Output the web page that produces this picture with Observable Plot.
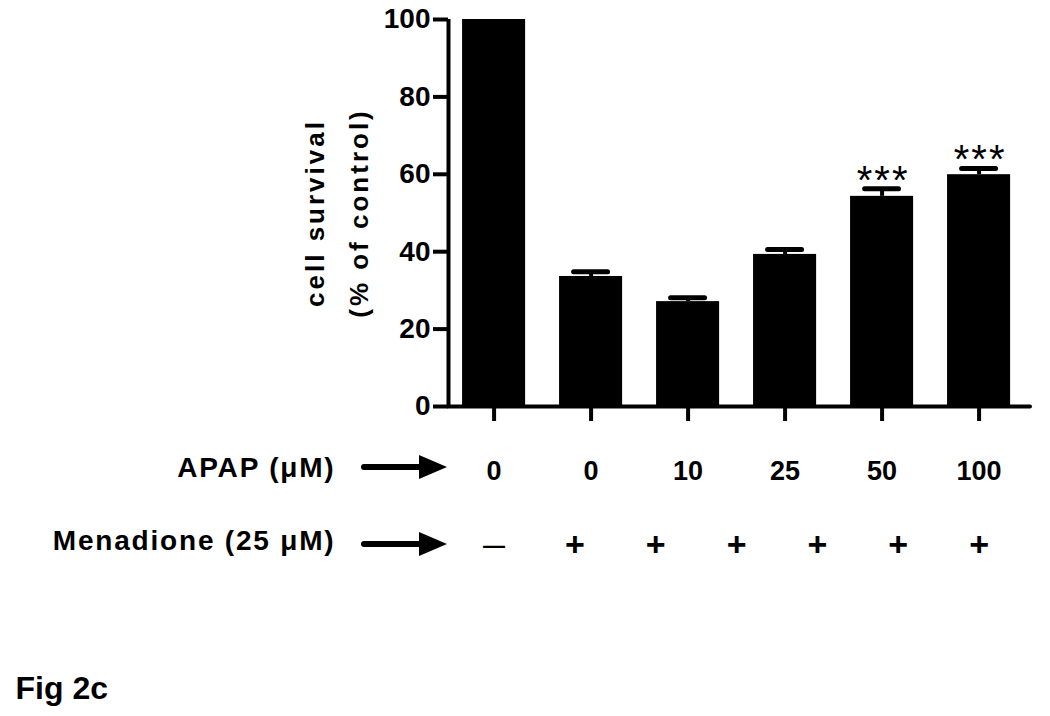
<!DOCTYPE html>
<html>
<head>
<meta charset="utf-8">
<script src="https://cdn.jsdelivr.net/npm/d3@7"></script>
<script src="https://cdn.jsdelivr.net/npm/@observablehq/plot@0.6"></script>
<style>
  html, body { margin: 0; padding: 0; background: #fff; }
  svg { display: block; }
</style>
</head>
<body>
<div id="chart"></div>
<script>
// ---- data ----
const apap = ["0", "0", "10", "25", "50", "100"];          // APAP (µM) tick labels
const survival = [100, 33.6, 27.1, 39.3, 54.3, 59.9];      // cell survival (% of control)
const sem = [0, 1.2, 1.0, 1.3, 1.95, 1.6];                 // error (upper bar)
const signif = ["", "", "", "", "***", "***"];             // significance marks
const menadione = ["—", "+", "+", "+", "+", "+", "+"];     // Menadione (25 µM) row
const yTicks = [0, 20, 40, 60, 80, 100];
const rowLabels = ["APAP (μM)", "Menadione (25 μM)"];
const yLabel = "cell survival\n(% of control)";

const rows = apap.map((a, i) => ({i, apap: a, value: survival[i], sem: sem[i], sig: signif[i]}));
const withErr = rows.filter(d => d.sem > 0);
const withSig = rows.filter(d => d.sig);
const last = rows.length - 1;
// menadione signs evenly spread from the first to the last bar
const menRows = menadione.map((s, k) => ({s, pos: k * last / (menadione.length - 1)}));

const xDomain = [-0.47, last + 0.53];
const halfBar = 0.325, halfCap = 0.175;
const FONT = "'Liberation Sans', Arial, Helvetica, sans-serif";

function arrows(index, scales, values, dims) {
  const g = d3.create("svg:g");
  const xEnd = dims.marginLeft - 1;
  for (const off of [61, 138]) {
    const y = dims.height - dims.marginBottom + off;
    g.append("line")
      .attr("x1", xEnd - 83).attr("x2", xEnd - 24)
      .attr("y1", y).attr("y2", y)
      .attr("stroke", "black").attr("stroke-width", 6).attr("stroke-linecap", "round");
    g.append("path")
      .attr("d", `M${xEnd - 28},${y - 12}L${xEnd},${y}L${xEnd - 28},${y + 12}Z`)
      .attr("fill", "black");
  }
  return g.node();
}

const chart = Plot.plot({
  width: 1050,
  height: 716,
  marginLeft: 448,
  marginRight: 20,
  marginTop: 19,
  marginBottom: 310,
  style: {fontFamily: FONT, color: "black", background: "white", overflow: "visible"},
  x: {type: "linear", domain: xDomain},
  y: {domain: [0, 100]},
  marks: [
    Plot.rectY(rows, {x1: d => d.i - halfBar, x2: d => d.i + halfBar, y: "value", fill: "black"}),
    Plot.ruleX(withErr, {x: "i", y1: "value", y2: d => d.value + d.sem, stroke: "black", strokeWidth: 4}),
    Plot.ruleY(withErr, {y: d => d.value + d.sem, x1: d => d.i - halfCap, x2: d => d.i + halfCap,
      stroke: "black", strokeWidth: 5, strokeLinecap: "round"}),
    Plot.text(withSig, {x: "i", y: d => d.value + d.sem, text: "sig", lineAnchor: "bottom", dy: 5, dx: 1,
      fontSize: 40, fill: "black"}),
    Plot.ruleY([0], {stroke: "black", strokeWidth: 4, strokeLinecap: "round"}),
    Plot.ruleX([xDomain[0]], {stroke: "black", strokeWidth: 4}),
    Plot.axisY({ticks: yTicks, tickSize: 15, tickPadding: 3, fontSize: 28, fontWeight: "bold",
      strokeWidth: 4, label: null, tickFormat: d => d}),
    Plot.axisX({ticks: d3.range(rows.length), tickSize: 15, tickPadding: 39, fontSize: 27,
      fontWeight: "bold", strokeWidth: 4, label: null, tickFormat: i => apap[i]}),
    Plot.text(menRows, {x: "pos", frameAnchor: "bottom", lineAnchor: "middle", dy: 139,
      text: "s", fontSize: d => d.s === "+" ? 34 : 22, fontWeight: "bold", fill: "black"}),
    Plot.text([rowLabels[0]], {frameAnchor: "bottom-left", textAnchor: "end", lineAnchor: "middle",
      dx: -113, dy: 62, fontSize: 28, fontWeight: "bold", fill: "black"}),
    Plot.text([rowLabels[1]], {frameAnchor: "bottom-left", textAnchor: "end", lineAnchor: "middle",
      dx: -113, dy: 135, fontSize: 28, fontWeight: "bold", fill: "black"}),
    arrows,
    Plot.text([yLabel], {frameAnchor: "left", textAnchor: "middle", rotate: -90, dx: -117,
      lineAnchor: "middle", lineHeight: 1.69, fontSize: 26, fontWeight: "bold", fill: "black"}),
    Plot.text(["Fig 2c"], {frameAnchor: "bottom-left", textAnchor: "start", lineAnchor: "bottom",
      dx: -433, dy: 292, fontSize: 32, fontWeight: "bold", fill: "black"})
  ]
});

// letter spacing (style only) for the wide-set labels of the reference
const spacing = new Map([
  [yLabel.replace("\n", ""), "3px"],
  [rowLabels[0], "1.8px"],
  [rowLabels[1], "1.8px"],
  ["***", "2px"]
]);
d3.select(chart).selectAll("text").each(function () {
  const ls = spacing.get(this.textContent);
  if (ls) {
    this.style.letterSpacing = ls;
    this.setAttribute("letter-spacing", ls);
  }
});
document.getElementById("chart").appendChild(chart);
</script>
</body>
</html>
